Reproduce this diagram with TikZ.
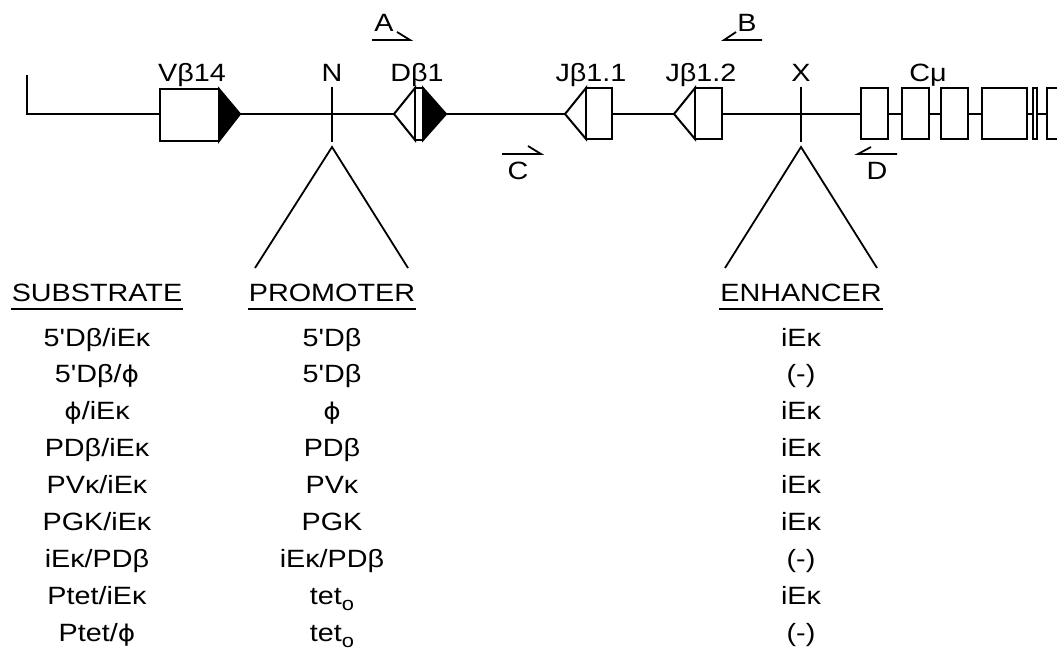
\documentclass[tikz,border=0pt]{standalone}
\usepackage{fontspec}
\setmainfont{Liberation Sans}
\newfontfamily\dejavu{DejaVu Sans}
\usepackage{graphicx}
\newcommand\sx[1]{\scalebox{1.15}[1]{#1}}
\newcommand\tetO{tet\raisebox{-0.45ex}{\fontsize{19}{19}\selectfont o}}
\newcommand\ap{\textquotesingle}
\newcommand\ph{{\dejavu\fontsize{23}{26}\selectfont ϕ}}
\begin{document}
\begin{tikzpicture}[x=1pt,y=-1pt,line width=2pt,
  lab/.style={inner sep=0pt,anchor=base,font=\fontsize{25}{28}\selectfont},
  seg/.style={draw,fill=white,line join=miter},
  blk/.style={draw,fill=black,line join=miter},
  primer/.style={line width=1.8pt,line join=miter},
  fan/.style={line width=1.8pt}]
\clip (0,0) rectangle (1057,651);
% main line
\coordinate (start) at (27,75);
\coordinate (corner) at (27,114);
\coordinate (end) at (1070,114);
\draw (start) -- (corner) -- (end);
% V beta 14
\draw[seg] (160,89) rectangle (219,141);
\draw[blk] (219,89) -- (240,114) -- (219,141) -- cycle;
% N tick and fan
\coordinate (Nt) at (332,87); \coordinate (Nb) at (332,142);
\draw (Nt) -- (Nb);
\coordinate (Na) at (332,147); \coordinate (Nl) at (255,268); \coordinate (Nr) at (408,268);
\draw[fan] (Nl) -- (Na) -- (Nr);
% D beta 1
\draw[seg] (394,114) -- (415,88) -- (415,140) -- cycle;
\draw[seg] (415,88) rectangle (423,140);
\draw[blk] (423,88) -- (446,114) -- (423,140) -- cycle;
% J beta 1.1, 1.2
\draw[seg] (565,114) -- (586,88) -- (586,139) -- cycle;
\draw[seg] (586,88) rectangle (612,139);
\draw[seg] (674,114) -- (695,88) -- (695,139) -- cycle;
\draw[seg] (695,88) rectangle (722,139);
% X tick and fan
\coordinate (Xt) at (801,87); \coordinate (Xb) at (801,142);
\draw (Xt) -- (Xb);
\coordinate (Xa) at (801,147); \coordinate (Xl) at (725,268); \coordinate (Xr) at (877,268);
\draw[fan] (Xl) -- (Xa) -- (Xr);
% C mu exons
\draw[seg] (861,88) rectangle (888,139);
\draw[seg] (902,88) rectangle (929,139);
\draw[seg] (941,88) rectangle (968,139);
\draw[seg] (982,88) rectangle (1027,139);
\draw[seg] (1033,88) rectangle (1037,139);
\draw[seg] (1047,88) rectangle (1075,139);
% primers
\coordinate (A1) at (372,40); \coordinate (A2) at (410,40); \coordinate (A3) at (397,32);
\draw[primer] (A1) -- (A2) -- (A3);
\coordinate (B1) at (762,40); \coordinate (B2) at (724,40); \coordinate (B3) at (736,32);
\draw[primer] (B1) -- (B2) -- (B3);
\coordinate (C1) at (502,154); \coordinate (C2) at (541,154); \coordinate (C3) at (528,146);
\draw[primer] (C1) -- (C2) -- (C3);
\coordinate (D1) at (897,154); \coordinate (D2) at (858,154); \coordinate (D3) at (871,147);
\draw[primer] (D1) -- (D2) -- (D3);
\node[lab] (tA) at (384,31) {\sx{A}};
\node[lab] (tB) at (747,31) {\sx{B}};
\node[lab] (tC) at (518,179) {\sx{C}};
\node[lab] (tD) at (877,179) {\sx{D}};
% gene labels
\node[lab] (lV) at (192,81) {\sx{Vβ14}};
\node[lab] (lN) at (332,81) {\sx{N}};
\node[lab] (lD) at (417,81) {\sx{Dβ1}};
\node[lab] (lJ1) at (591,81) {\sx{Jβ1.1}};
\node[lab] (lJ2) at (701,81) {\sx{Jβ1.2}};
\node[lab] (lX) at (801,81) {\sx{X}};
\node[lab] (lC) at (928,81) {\sx{Cμ}};
% headers
\node[lab] (hS) at (97,301) {\sx{SUBSTRATE}};
\node[lab] (hP) at (332,301) {\sx{PROMOTER}};
\node[lab] (hE) at (801,301) {\sx{ENHANCER}};
\foreach \h in {hS,hP,hE}
  \draw[line width=1.8pt] ([yshift=-8pt]\h.base west) -- ([yshift=-8pt]\h.base east);
% rows
\node[lab] (s1) at (97,346) {\sx{5\ap Dβ/iEκ}};
\node[lab] (s2) at (97,382.9) {\sx{5\ap Dβ/\ph}};
\node[lab] (s3) at (97,419.8) {\sx{\ph/iEκ}};
\node[lab] (s4) at (97,456.7) {\sx{PDβ/iEκ}};
\node[lab] (s5) at (97,493.6) {\sx{PVκ/iEκ}};
\node[lab] (s6) at (97,530.5) {\sx{PGK/iEκ}};
\node[lab] (s7) at (97,567.4) {\sx{iEκ/PDβ}};
\node[lab] (s8) at (97,604.3) {\sx{Ptet/iEκ}};
\node[lab] (s9) at (97,641.2) {\sx{Ptet/\ph}};
\node[lab] (p1) at (332,346) {\sx{5\ap Dβ}};
\node[lab] (p2) at (332,382.9) {\sx{5\ap Dβ}};
\node[lab] (p3) at (332,419.8) {\sx{\ph}};
\node[lab] (p4) at (332,456.7) {\sx{PDβ}};
\node[lab] (p5) at (332,493.6) {\sx{PVκ}};
\node[lab] (p6) at (332,530.5) {\sx{PGK}};
\node[lab] (p7) at (332,567.4) {\sx{iEκ/PDβ}};
\node[lab] (p8) at (332,604.3) {\sx{\tetO}};
\node[lab] (p9) at (332,641.2) {\sx{\tetO}};
\node[lab] (e1) at (801,346) {\sx{iEκ}};
\node[lab] (e2) at (801,382.9) {\sx{(-)}};
\node[lab] (e3) at (801,419.8) {\sx{iEκ}};
\node[lab] (e4) at (801,456.7) {\sx{iEκ}};
\node[lab] (e5) at (801,493.6) {\sx{iEκ}};
\node[lab] (e6) at (801,530.5) {\sx{iEκ}};
\node[lab] (e7) at (801,567.4) {\sx{(-)}};
\node[lab] (e8) at (801,604.3) {\sx{iEκ}};
\node[lab] (e9) at (801,641.2) {\sx{(-)}};
\end{tikzpicture}
\end{document}
